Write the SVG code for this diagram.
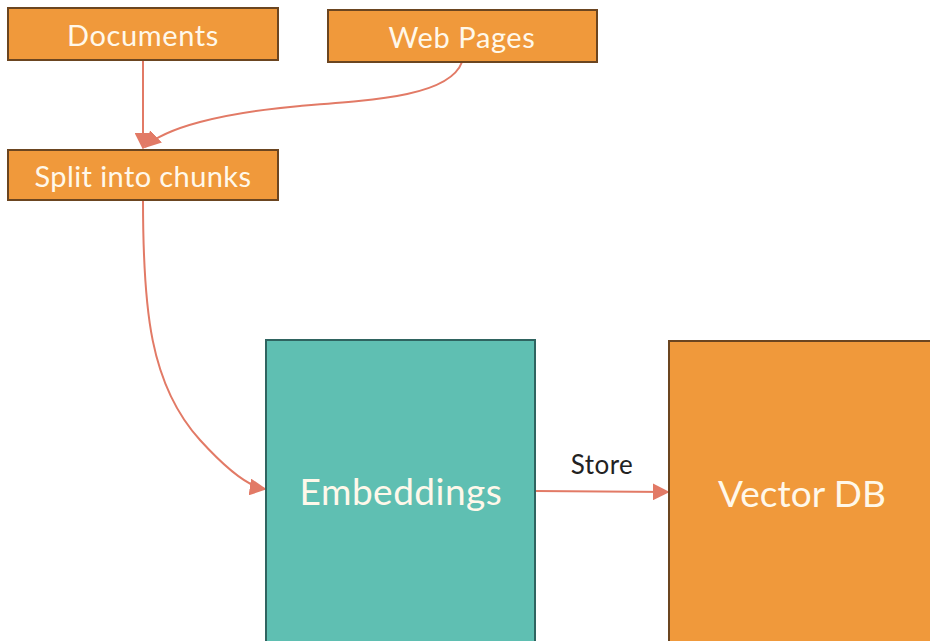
<svg xmlns="http://www.w3.org/2000/svg" width="930" height="641" viewBox="0 0 930 641">
<style>
.orange{fill:#F0993B;stroke:#6b4520;stroke-width:2}
.teal{fill:#5FBFB2;stroke:#2f6460;stroke-width:2}
.lbl{font-family:Lato,"Open Sans",sans-serif;fill:#FFF8EA;text-anchor:middle;dominant-baseline:central}
.edge{fill:none;stroke:#E27A66;stroke-width:2}
.elbl{font-family:Lato,"Open Sans",sans-serif;fill:#222;font-size:26px;text-anchor:middle;letter-spacing:0.5px}
</style>
<defs>
<marker id="ahb" viewBox="0 0 10 10" refX="9" refY="5" markerWidth="17" markerHeight="17" markerUnits="userSpaceOnUse" orient="auto">
<path d="M0,0 L10,5 L0,10 z" fill="#E27A66"/>
</marker>
</defs>
<rect width="930" height="641" fill="#fff"/>
<g id="connectors">
<path class="edge" d="M143,60 L143,148" marker-end="url(#ahb)"/>
<path class="edge" d="M462,62 C450,95 380,100 300,106 C220,113 165,128 145,147" marker-end="url(#ahb)"/>
<path class="edge" d="M143,200 C143,310 150,385 200,440 C230,473 250,487 265,489" marker-end="url(#ahb)"/>
<path class="edge" d="M535,491 L668,492" marker-end="url(#ahb)"/>
<text class="elbl" x="602" y="474">Store</text>
</g>
<g id="documents">
<rect class="orange" x="8" y="8" width="270" height="52"/>
<text class="lbl" x="143" y="34" font-size="29" letter-spacing="0.6">Documents</text>
</g>
<g id="webpages">
<rect class="orange" x="328" y="10" width="269" height="52"/>
<text class="lbl" x="462" y="36" font-size="29" letter-spacing="0.6">Web Pages</text>
</g>
<g id="split">
<rect class="orange" x="8" y="150" width="270" height="50"/>
<text class="lbl" x="143" y="175" font-size="29" letter-spacing="0.4">Split into chunks</text>
</g>
<g id="embeddings">
<rect class="teal" x="266" y="340" width="269" height="305"/>
<text class="lbl" x="401" y="490" font-size="37" letter-spacing="0.5">Embeddings</text>
</g>
<g id="vectordb">
<rect class="orange" x="669" y="341" width="265" height="305"/>
<text class="lbl" x="802" y="492" font-size="37">Vector DB</text>
</g>
</svg>
